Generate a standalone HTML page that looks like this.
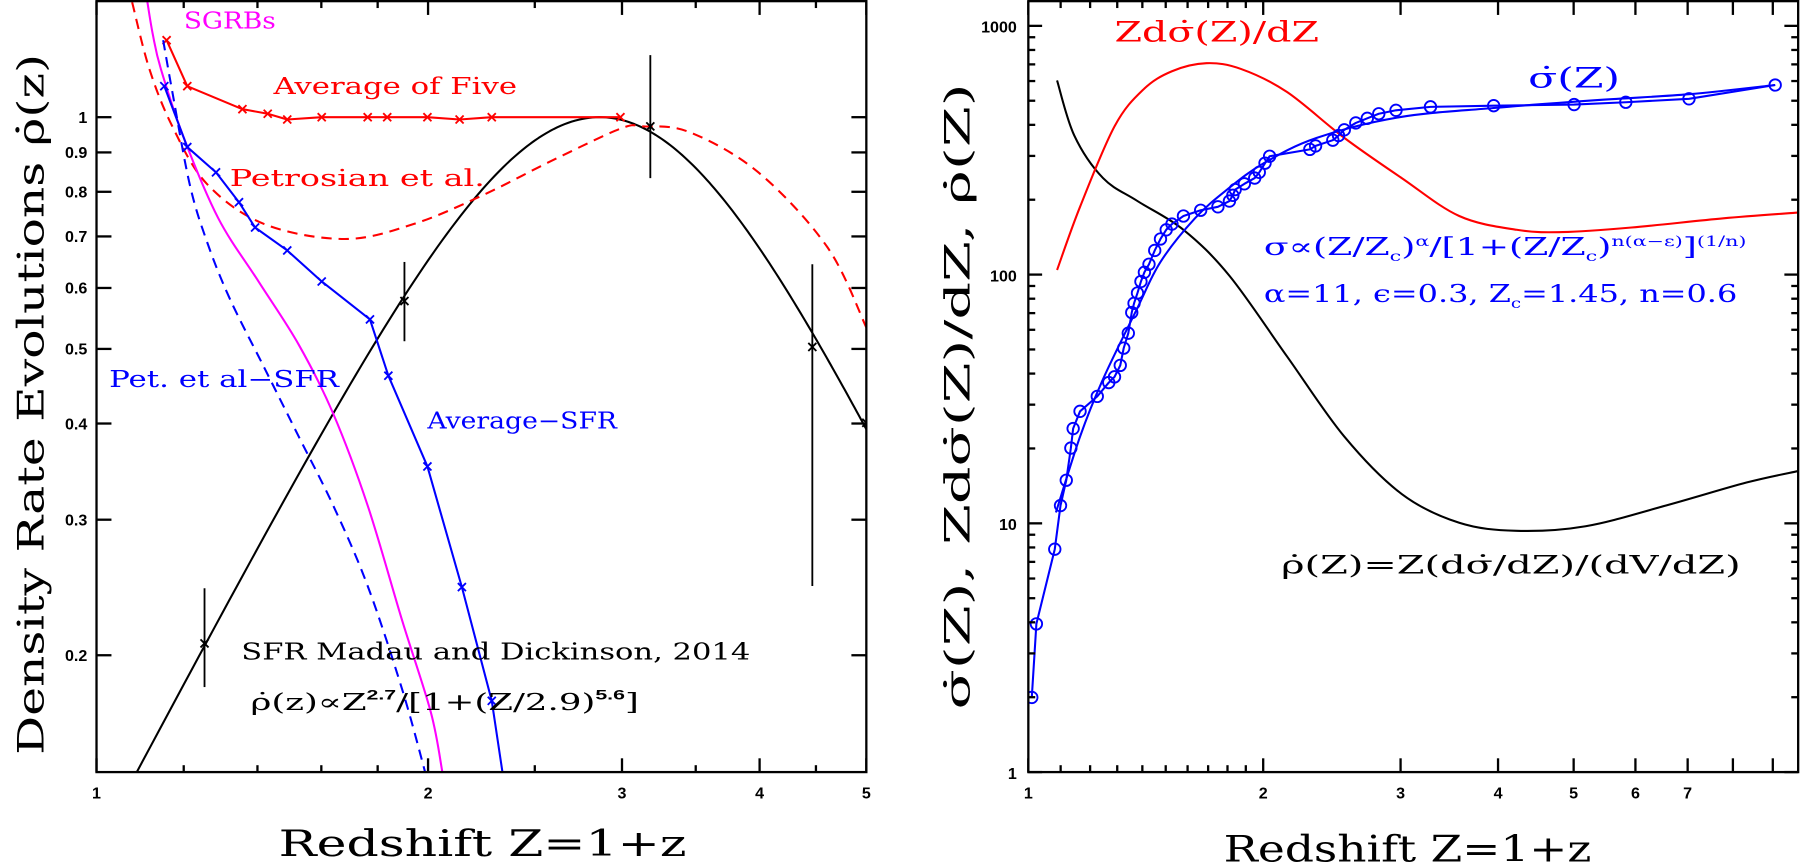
<!DOCTYPE html>
<html><head><meta charset="utf-8"><style>
html,body{margin:0;padding:0;background:#fff;width:1800px;height:864px;overflow:hidden}
svg{display:block}
text{font-family:"DejaVu Serif","Liberation Serif",serif}
.t{font-family:"Liberation Sans","DejaVu Sans",sans-serif;font-weight:bold;font-size:14px}
</style></head><body>
<svg id="s" width="1800" height="864" viewBox="0 0 1566.6 752" preserveAspectRatio="none" xmlns="http://www.w3.org/2000/svg">
<defs>
<clipPath id="cl"><rect x="84" y="1" width="670" height="671"/></clipPath>
<clipPath id="cr"><rect x="895" y="1" width="670" height="671"/></clipPath>
</defs>
<g id="L" clip-path="url(#cl)" fill="none" stroke-width="1.8"></g>
<g id="R" clip-path="url(#cr)" fill="none" stroke-width="1.8"></g>
<g id="A" stroke="#000" stroke-width="2" fill="none"></g>
<g id="T"></g>
<text x="160" y="25" font-size="20" fill="#f0f" textLength="80" lengthAdjust="spacingAndGlyphs">SGRBs</text>
<text x="238" y="82" font-size="20" fill="red" textLength="212" lengthAdjust="spacingAndGlyphs">Average of Five</text>
<text x="200" y="162" font-size="20" fill="red" textLength="222" lengthAdjust="spacingAndGlyphs">Petrosian et al.</text>
<text x="95" y="337" font-size="20" fill="blue" textLength="200" lengthAdjust="spacingAndGlyphs">Pet. et al−SFR</text>
<text x="372" y="373" font-size="20" fill="blue" textLength="165" lengthAdjust="spacingAndGlyphs">Average−SFR</text>
<text x="210" y="574" font-size="20" fill="#000" textLength="443" lengthAdjust="spacingAndGlyphs">SFR Madau and Dickinson, 2014</text>
<text x="218" y="618" font-size="20" fill="#000" textLength="338" lengthAdjust="spacingAndGlyphs">ρ̇(z)∝Z<tspan font-size="12" dy="-9" font-family="Liberation Sans" font-weight="bold">2.7</tspan><tspan dy="9">/[1+(Z/2.9)</tspan><tspan font-size="12" dy="-9" font-family="Liberation Sans" font-weight="bold">5.6</tspan><tspan dy="9">]</tspan></text>
<text transform="translate(38,352) rotate(-90)" text-anchor="middle" font-size="32" fill="#000" textLength="610" lengthAdjust="spacingAndGlyphs">Density Rate Evolutions ρ̇(z)</text>
<text x="420" y="745" text-anchor="middle" font-size="32" fill="#000" textLength="355" lengthAdjust="spacingAndGlyphs">Redshift Z=1+z</text>
<text x="970" y="36" font-size="24" fill="red" textLength="178" lengthAdjust="spacingAndGlyphs">Zdσ̇(Z)/dZ</text>
<text x="1330" y="76" font-size="24" fill="blue" textLength="80" lengthAdjust="spacingAndGlyphs">σ̇(Z)</text>
<text x="1100" y="222" font-size="21" fill="blue" textLength="420" lengthAdjust="spacingAndGlyphs">σ∝(Z/Z<tspan font-size="12" dy="5">c</tspan><tspan dy="-5">)</tspan><tspan font-size="12" dy="-8">α</tspan><tspan dy="8">/[1+(Z/Z</tspan><tspan font-size="12" dy="5">c</tspan><tspan dy="-5">)</tspan><tspan font-size="12" dy="-8">n(α−ε)</tspan><tspan dy="8">]</tspan><tspan font-size="12" dy="-8">(1/n)</tspan></text>
<text x="1100" y="263" font-size="21" fill="blue" textLength="412" lengthAdjust="spacingAndGlyphs">α=11, ϵ=0.3, Z<tspan font-size="12" dy="5">c</tspan><tspan dy="-5">=1.45, n=0.6</tspan></text>
<text x="1115" y="499" font-size="22" fill="#000" textLength="400" lengthAdjust="spacingAndGlyphs">ρ̇(Z)=Z(dσ̇/dZ)/(dV/dZ)</text>
<text transform="translate(844,345) rotate(-90)" text-anchor="middle" font-size="30" fill="#000" textLength="545" lengthAdjust="spacingAndGlyphs">σ̇(Z),  Zdσ̇(Z)/dZ,  ρ̇(Z)</text>
<text x="1225" y="750" text-anchor="middle" font-size="32" fill="#000" textLength="320" lengthAdjust="spacingAndGlyphs">Redshift Z=1+z</text>
</svg>
<script>
var NS="http://www.w3.org/2000/svg";
function el(p,t,a){var e=document.createElementNS(NS,t);for(var k in a)e.setAttribute(k,a[k]);document.getElementById(p).appendChild(e);return e;}
function pl(p,pts,c,dash){el(p,"polyline",{points:pts.map(function(q){return q.join(",")}).join(" "),stroke:c,"stroke-dasharray":dash||"none","stroke-linejoin":"round"});}
function sm(p,P,c,dash){var d="M"+P[0][0]+","+P[0][1];for(var i=0;i<P.length-1;i++){var a=P[Math.max(i-1,0)],b=P[i],e=P[i+1],f=P[Math.min(i+2,P.length-1)];d+="C"+(b[0]+(e[0]-a[0])/6)+","+(b[1]+(e[1]-a[1])/6)+" "+(e[0]-(f[0]-b[0])/6)+","+(e[1]-(f[1]-b[1])/6)+" "+e[0]+","+e[1];}el(p,"path",{d:d,stroke:c,"stroke-dasharray":dash||"none"});}
function xm(p,x,y,c){var s=3.5;el(p,"path",{d:"M"+(x-s)+","+(y-s)+"L"+(x+s)+","+(y+s)+"M"+(x-s)+","+(y+s)+"L"+(x+s)+","+(y-s),stroke:c,"stroke-width":1.6});}
function txt(x,y,s,anchor){var e=el("T","text",{x:x,y:y,"class":"t","text-anchor":anchor||"middle"});e.textContent=s;}
function lx(Z){return 84+670*Math.log(Z)/Math.log(5);}
function ly(v){return 102-670*Math.log10(v);}
var pk=Math.pow(2.86,2.7)/(1+Math.pow(2.86/2.9,5.6)),m=[];
for(var Z=1;Z<=5.01;Z+=0.02){var v=Math.pow(Z,2.7)/(1+Math.pow(Z/2.9,5.6))/pk;m.push([lx(Z),ly(v)]);}
pl("L",m,"#000");
sm("L",[[115,2],[130,60],[150,110],[180,160],[230,195],[300,208],[360,195],[420,170],[480,140],[540,112],[560,110],[600,115],[660,150],[720,215],[754,285]],"red","9,6");
var av=[[145,35],[163,75],[211,95],[233,99],[250,104],[280,102],[320,102],[337,102],[372,102],[400,104],[428,102],[540,102]];
pl("L",av,"red");av.forEach(function(q){xm("L",q[0],q[1],"red")});
sm("L",[[128,0],[133,30],[140,60],[160,120],[190,190],[225,245],[260,300],[290,360],[320,440],[350,540],[375,620],[385,672]],"#f0f");
var bs=[[143,75],[163,128],[188,150],[208,176],[222,198],[250,218],[280,245],[322,278],[338,327],[372,406],[402,511],[428,610],[440,690]];
pl("L",bs,"blue");bs.forEach(function(q){xm("L",q[0],q[1],"blue")});
sm("L",[[142,35],[150,80],[165,160],[180,210],[200,260],[230,320],[260,380],[290,440],[320,510],[350,600],[370,672]],"blue","9,6");
[[178,560,512,598],[352,262,228,297],[566,110,48,155],[707,302,230,510],[754,368,368,368]].forEach(function(q){xm("L",q[0],q[1],"#000");if(q[2]!=q[3])el("L","line",{x1:q[0],x2:q[0],y1:q[2],y2:q[3],stroke:"#000","stroke-width":1.6});});
el("A","rect",{x:84,y:1,width:670,height:671});
[1,2,3,4,5].forEach(function(Z){var x=lx(Z);el("A","line",{x1:x,x2:x,y1:672,y2:660});el("A","line",{x1:x,x2:x,y1:1,y2:13});txt(x,695,String(Z));});
[1.2,1.4,1.6,1.8,2.5,3.5,4.5].forEach(function(Z){var x=lx(Z);el("A","line",{x1:x,x2:x,y1:672,y2:666});el("A","line",{x1:x,x2:x,y1:1,y2:7});});
[0.2,0.3,0.4,0.5,0.6,0.7,0.8,0.9,1].forEach(function(v){var y=ly(v);el("A","line",{x1:84,x2:97,y1:y,y2:y});el("A","line",{x1:754,x2:741,y1:y,y2:y});txt(76,y+5,v==1?"1":v.toFixed(1),"end");});
function rx(Z){return 895+679*Math.log10(Z);}
function ry(v){return 672-216.5*Math.log10(v);}
sm("R",[[920,70],[935,118],[960,155],[990,175],[1030,200],[1070,240],[1120,310],[1170,380],[1220,430],[1270,455],[1320,462],[1380,458],[1450,440],[1520,420],[1565,410]],"#000");
sm("R",[[920,235],[940,180],[970,110],[995,78],[1020,62],[1050,55],[1080,60],[1120,80],[1170,120],[1220,155],[1270,188],[1320,200],[1360,202],[1420,198],[1500,190],[1565,185]],"red");
sm("R",[[919,446],[940,380],[960,330],[989,270],[1010,228],[1040,190],[1068,165],[1100,142],[1146,120],[1218,102],[1300,94],[1392,87],[1470,82],[1545,74]],"blue");
var bd=[[898,607],[902,543],[918,478],[923,440],[928,418],[932,390],[934,373],[940,358],[955,345],[965,333],[970,328],[975,318],[978,303],[982,290],[985,272],[987,264],[990,255],[993,245],[996,237],[1000,230],[1005,218],[1010,208],[1015,200],[1020,195],[1030,188],[1045,183],[1060,180],[1070,175],[1073,170],[1075,165],[1083,160],[1092,155],[1096,150],[1101,142],[1105,136],[1140,130],[1145,127],[1160,122],[1165,118],[1170,113],[1180,107],[1190,103],[1200,99],[1215,96],[1245,93],[1300,92],[1370,91],[1415,89],[1470,86],[1545,74]];
pl("R",bd,"blue");bd.forEach(function(q){el("R","circle",{cx:q[0],cy:q[1],r:5,stroke:"blue","stroke-width":1.6});});
el("A","rect",{x:895,y:1,width:670,height:671});
for(var d=0;d<4;d++)for(var k=1;k<10;k++){var v=k*Math.pow(10,d),y=ry(v);if(y<1)continue;var L=k==1?12:6;el("A","line",{x1:895,x2:895+L,y1:y,y2:y});el("A","line",{x1:1565,x2:1565-L,y1:y,y2:y});if(k==1)txt(885,y+6,String(v),"end");}
for(var Z=1;Z<=9.6;Z+=(Z<2?0.1:1)){var zz=Math.round(Z*10)/10,x=rx(zz),maj=(zz==Math.round(zz));var L=maj?12:6;el("A","line",{x1:x,x2:x,y1:672,y2:672-L});el("A","line",{x1:x,x2:x,y1:1,y2:1+L});if(maj&&zz<=7)txt(x,695,String(zz));}
</script>
</body></html>
